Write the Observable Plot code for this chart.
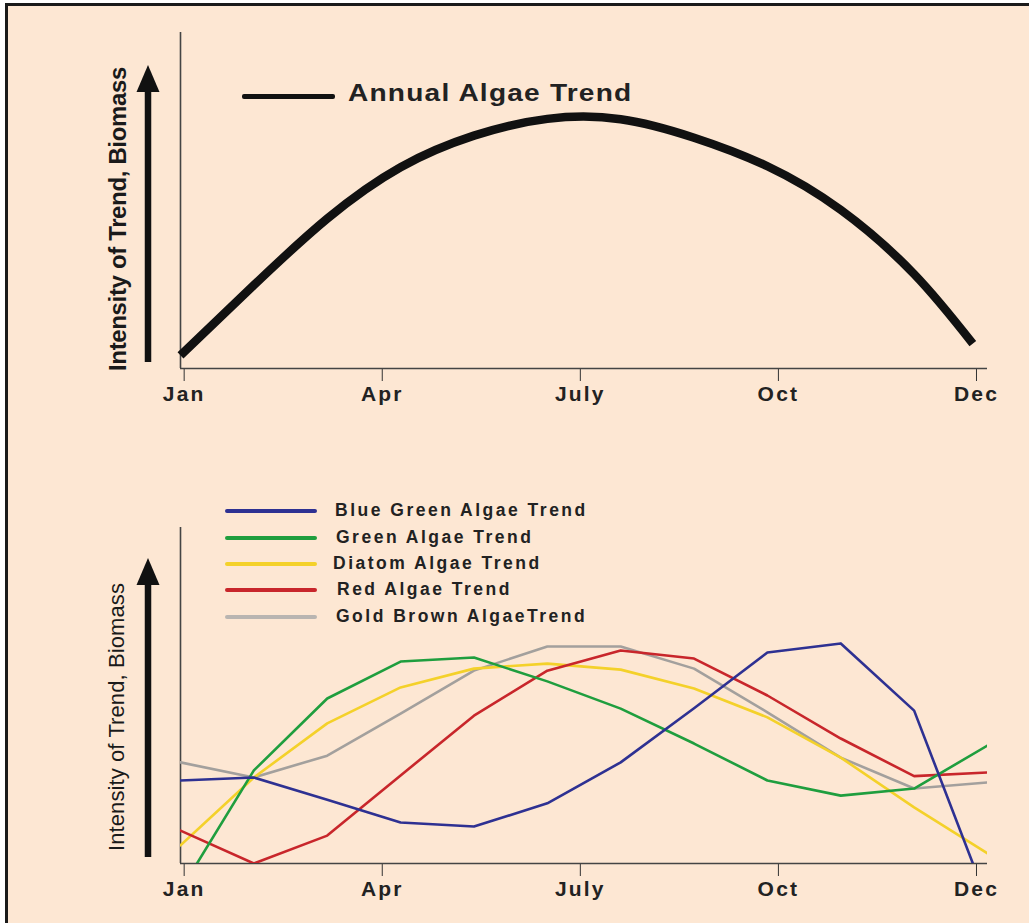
<!DOCTYPE html>
<html><head><meta charset="utf-8">
<script src="https://cdn.jsdelivr.net/npm/d3@7"></script>
<script src="https://cdn.jsdelivr.net/npm/@observablehq/plot@0.6"></script>
<style>
html,body{margin:0;padding:0;background:#fff;}
#wrap{position:relative;width:1029px;height:923px;overflow:hidden;font-family:"Liberation Sans",Arial,sans-serif;}
#panel{position:absolute;left:5px;top:3px;width:1100px;height:1000px;background:#fde7d3;border-top:3px solid #1a1a1a;border-left:3px solid #1a1a1a;}
.plot{position:absolute;left:0;}
.plot svg text{font-weight:bold;letter-spacing:2.2px;fill:#222;}
.ylab{position:absolute;white-space:nowrap;transform:translate(-50%,-50%) rotate(-90deg);color:#1a1a1a;}
.leg{position:absolute;white-space:nowrap;color:#222;font-weight:bold;}
.leg span.sw{position:absolute;height:4px;border-radius:2px;}
.leg span.tx{position:absolute;transform-origin:0 50%;}
</style></head>
<body>
<div id="wrap">
  <div id="panel"></div>
  <div class="plot" id="top" style="top:0"></div>
  <div class="plot" id="bottom" style="top:495px"></div>
  <svg id="arrows" width="1029" height="923" style="position:absolute;left:0;top:0;pointer-events:none"></svg>
  <div class="ylab" style="left:118px;top:219px;font-size:24px;font-weight:bold;letter-spacing:-0.35px;">Intensity of Trend, Biomass</div>
  <div class="ylab" style="left:117px;top:717px;font-size:22px;font-weight:normal;letter-spacing:0.1px;">Intensity of Trend, Biomass</div>
  <div id="legTop"></div>
  <div id="legBottom"></div>
</div>
<script>
// ---- data ----
const tickPos = [0.05, 2.75, 5.45, 8.15, 10.85];
const tickLabels = ["Jan", "Apr", "July", "Oct", "Dec"];
const months = ["Jan","Feb","Mar","Apr","May","Jun","Jul","Aug","Sep","Oct","Nov","Dec"];

// top chart: annual algae trend
const annualT = [0, 1, 2, 3, 4, 5, 6, 7, 8, 9, 10, 10.8];
const annualV = [3.9, 24.8, 44.6, 59.9, 69.3, 74.3, 74.2, 68.7, 60.2, 47.2, 28.1, 7.4];

// bottom chart: individual algae groups (monthly)
const blueGreen = [24.7, 25.6, 19.0, 12.2, 11.0, 17.9, 30.1, 46.2, 62.8, 65.5, 45.5, -11.3];
const green     = [-8.0, 27.7, 49.1, 60.1, 61.3, 54.2, 46.1, 35.7, 24.7, 20.2, 22.3, 35.1];
const diatom    = [5.4, 25.6, 41.7, 52.4, 58.0, 59.5, 57.7, 52.1, 43.5, 31.5, 16.7, 3.0];
const red       = [9.8, 0.0, 8.3, 26.2, 44.0, 57.4, 63.4, 61.0, 50.0, 37.2, 26.0, 27.1];
const goldBrown = [30.1, 25.6, 32.1, 44.6, 57.4, 64.6, 64.6, 58.0, 45.0, 31.5, 22.3, 24.1];

const seriesNames = ["Blue Green Algae Trend", "Green Algae Trend", "Diatom Algae Trend", "Red Algae Trend", "Gold Brown AlgaeTrend"];
const seriesColors = ["#2e3192", "#1f9e3e", "#f4d12a", "#c8262b", "#a3a09d"];
const legendColors = ["#2e3192", "#1f9e3e", "#f4d12a", "#c8262b", "#b9b5b1"];
const topTitle = "Annual Algae Trend";

// ---- build ----
const labelOf = new Map(tickPos.map((p, i) => [p, tickLabels[i]]));
const annual = annualT.map((t, i) => ({t, v: annualV[i]}));
const seriesValues = [blueGreen, green, diatom, red, goldBrown];
const drawOrder = [4, 2, 3, 1, 0];
const allSeries = drawOrder.flatMap(k => months.map((m, i) => ({name: seriesNames[k], x: i, v: seriesValues[k][i]})));

const common = {
  width: 1029, height: 420,
  marginLeft: 180, marginRight: 42, marginTop: 32, marginBottom: 52,
  style: {background: "transparent", fontFamily: '"Liberation Sans", Arial, sans-serif', fontSize: "21px", color: "#333", overflow: "visible"},
  x: {domain: [0, 11], ticks: tickPos, tickFormat: d => labelOf.get(d), tickSize: 13, tickPadding: 5, label: null},
  y: {domain: [0, 100], axis: null}
};

const topPlot = Plot.plot({
  ...common,
  marks: [
    Plot.ruleX([0], {stroke: "#444", strokeWidth: 1.6}),
    Plot.ruleY([0], {stroke: "#444", strokeWidth: 1.6}),
    Plot.line(annual, {x: "t", y: "v", curve: "natural", stroke: "#111", strokeWidth: 8.5, strokeLinecap: "butt"})
  ]
});
document.getElementById("top").appendChild(topPlot);

const bottomPlot = Plot.plot({
  ...common,
  color: {domain: seriesNames, range: seriesColors},
  marks: [
    Plot.ruleX([0], {stroke: "#444", strokeWidth: 1.6}),
    Plot.ruleY([0], {stroke: "#444", strokeWidth: 1.6}),
    Plot.line(allSeries, {x: "x", y: "v", z: "name", stroke: "name", strokeWidth: 2.6, clip: true})
  ]
});
document.getElementById("bottom").appendChild(bottomPlot);

// ---- decorations: arrows ----
const arrows = d3.select("#arrows");
[[362, 65], [857, 558]].forEach(([y0, y1]) => {
  arrows.append("line").attr("x1", 148).attr("x2", 148).attr("y1", y0).attr("y2", y1 + 24)
    .attr("stroke", "#111").attr("stroke-width", 6.5);
  arrows.append("path").attr("d", `M148,${y1} L159.5,${y1 + 27} L136.5,${y1 + 27} Z`).attr("fill", "#111");
});

// ---- legends ----
const lt = document.getElementById("legTop");
lt.className = "leg";
lt.style.cssText = "left:0;top:0;font-size:23px;letter-spacing:1px;";
lt.innerHTML = `<span class="sw" style="left:242px;top:94px;width:93px;height:4.5px;background:#111"></span>
<span class="tx" style="left:348px;top:93px;transform:translateY(-50%) scaleX(1.22)">${topTitle}</span>`;

const lb = document.getElementById("legBottom");
lb.className = "leg";
lb.style.cssText = "left:0;top:0;font-size:17.5px;letter-spacing:2.5px;";
const rowY = [511, 538, 564, 590, 617];
const txX = [335, 336, 333, 337, 336];
lb.innerHTML = seriesNames.map((n, i) =>
  `<span class="sw" style="left:225px;top:${rowY[i] - 2}px;width:92px;background:${legendColors[i]}"></span>
   <span class="tx" style="left:${txX[i]}px;top:${rowY[i] - 1}px;transform:translateY(-50%)">${n}</span>`).join("");
</script>
</body></html>
